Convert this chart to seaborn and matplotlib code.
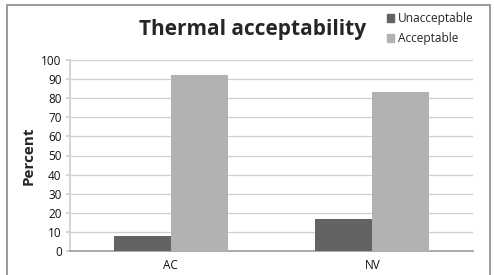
import matplotlib
matplotlib.use("Agg")
import matplotlib.pyplot as plt
import matplotlib.patches as mpatches
import seaborn as sns
import pandas as pd

categories = ["AC", "NV"]
series = ["Unacceptable", "Acceptable"]
unacceptable = [7.7, 16.7]
acceptable = [92.3, 83.3]
yticks = [0, 10, 20, 30, 40, 50, 60, 70, 80, 90, 100]

df = pd.DataFrame({
    "cat": categories * 2,
    "series": [series[0]] * 2 + [series[1]] * 2,
    "value": unacceptable + acceptable,
})

sns.set_theme(style="white")
plt.rcParams['font.family'] = ['Open Sans', 'DejaVu Sans']

colors = {"Unacceptable": "#636363", "Acceptable": "#b2b2b2"}

fig = plt.figure(figsize=(4.94, 2.75), dpi=100)
ax = fig.add_axes([70/494, 1 - 251/275, 403/494, 191/275])

sns.barplot(data=df, x="cat", y="value", hue="series", palette=colors,
            width=0.565, ax=ax, saturation=1, legend=False, zorder=3, linewidth=0)

ax.set_ylim(0, 100)
ax.set_yticks(yticks)
ax.set_xlim(-0.5, 1.5)
ax.grid(axis="y", color="#cfcfcf", linewidth=0.9, zorder=0)
ax.set_axisbelow(True)
for s in ["top", "right"]:
    ax.spines[s].set_visible(False)
ax.spines["left"].set_color("#cfcfcf")
ax.spines["bottom"].set_color("#a0a0a0")
ax.tick_params(axis="y", labelsize=8.5, colors="#111111", length=3, color="#cfcfcf", pad=3, left=True)
ax.tick_params(axis="x", labelsize=8.5, colors="#111111", length=0, pad=6)
ax.set_xlabel("")
ax.set_ylabel("Percent", fontsize=11, fontweight="bold", labelpad=4)

fig.text(253/494, 1 - 30/275, "Thermal acceptability", fontsize=15, fontweight="bold",
         ha="center", va="center")

handles = [mpatches.Patch(color=colors[s], label=s) for s in series]
fig.legend(handles=handles, loc="upper left", bbox_to_anchor=(387/494, 1 - 12/275),
           frameon=False, fontsize=8.6, handlelength=0.6, handleheight=0.6,
           handletextpad=0.3, labelspacing=0.6, borderaxespad=0, borderpad=0)

border = mpatches.Rectangle((7/494, -0.02), 483/494, 1 - 5/275 + 0.02, transform=fig.transFigure,
                            fill=False, edgecolor="#8a8a8a", linewidth=1.2)
fig.patches.append(border)

fig.savefig("out.png", dpi=100)
